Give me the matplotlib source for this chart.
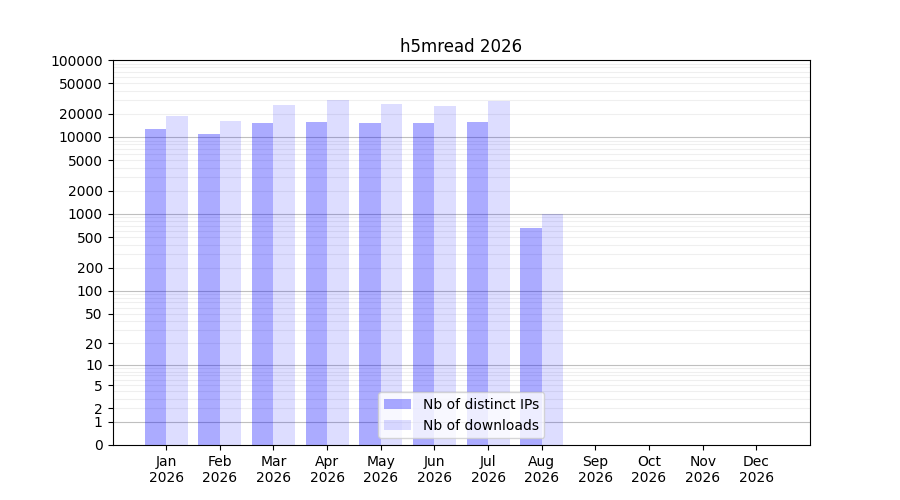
import matplotlib
matplotlib.use('Agg')
import matplotlib.pyplot as plt
import numpy as np
from matplotlib.ticker import FixedLocator, NullFormatter, FixedFormatter

# данные по месяцам
months = ['Jan', 'Feb', 'Mar', 'Apr', 'May', 'Jun', 'Jul', 'Aug', 'Sep', 'Oct', 'Nov', 'Dec']
year = 2026
distinct_ips = [12700, 10900, 15200, 15600, 15200, 15200, 15600, 655, 0, 0, 0, 0]
downloads = [18700, 16100, 26000, 30200, 26800, 25300, 29300, 1000, 0, 0, 0, 0]
tick_values = [0, 1, 2, 5, 10, 20, 50, 100, 200, 500, 1000, 2000, 5000, 10000, 20000, 50000, 100000]

fig = plt.figure(figsize=(9, 5), dpi=100)
ax = fig.add_subplot(111)

x = np.arange(len(months))
w = 0.4
ax.bar(x - w/2, distinct_ips, w, color='b', alpha=0.33, label='Nb of distinct IPs')
ax.bar(x + w/2, downloads, w, color='b', alpha=0.135, label='Nb of downloads')

# шкала log10(1+x)
ax.set_yscale('function', functions=(lambda v: np.log10(1 + np.clip(v, 0, None)),
                                     lambda v: 10**v - 1))
ax.set_ylim(0, 100000)
ax.set_xlim(-1, 12)

decades = [10**k for k in range(0, 6)]
minor = [m * d for d in decades[:-1] for m in range(2, 10)]
ax.yaxis.set_major_locator(FixedLocator(tick_values))
ax.yaxis.set_major_formatter(FixedFormatter([str(v) for v in tick_values]))
ax.yaxis.set_minor_locator(FixedLocator(minor))
ax.yaxis.set_minor_formatter(NullFormatter())
ax.tick_params(axis='y', which='minor', length=0)

# сетка: жирная на степенях 10, светлая на остальных
for d in decades[:-1]:
    ax.axhline(d, color='gray', alpha=0.5, linewidth=0.8, zorder=0)
for m in minor:
    ax.axhline(m, color='gray', alpha=0.12, linewidth=0.8, zorder=0)

ax.set_xticks(x)
ax.set_xticklabels([f'{m}\n{year}' for m in months])
ax.set_title(f'h5mread {year}')
ax.legend(loc='lower center')

fig.savefig('out.png', dpi=100)
